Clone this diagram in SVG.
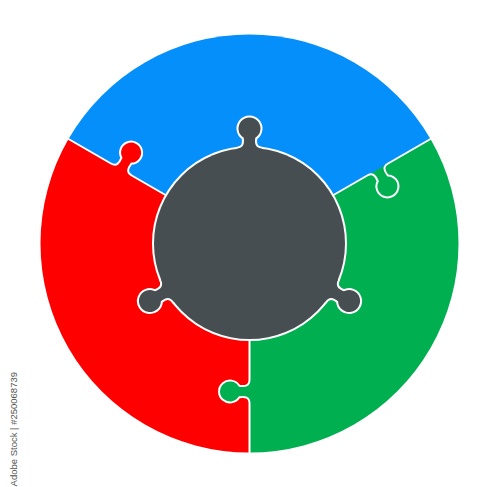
<svg xmlns="http://www.w3.org/2000/svg" xmlns:xlink="http://www.w3.org/1999/xlink" width="500" height="487" viewBox="0 0 500 487">
  <style>
    .blue { fill: #058ffb; }
    .red { fill: #fe0000; }
    .green { fill: #00af50; }
    .gray { fill: #474e52; }
    .seam { fill: none; stroke: #ffffff; stroke-width: 2; }
    .halo { fill: #ffffff; stroke: #ffffff; stroke-width: 4; stroke-linejoin: round; }
    .stock { font-family: "Liberation Sans", Arial, sans-serif; font-size: 9.5px; fill: #555555; }
  </style>
  <defs>
    <path id="seamPath" d="M 85 0 H 136 C 142.5 0 143 4.5 142.2 10.15 A 11 11 0 1 0 153.8 10.15 C 153 4.5 153.5 0 160 0 H 215"/>
    <path id="tabShape" d="M 134 -3 V 0 H 136 C 142.5 0 143 4.5 142.2 10.15 A 11 11 0 1 0 153.8 10.15 C 153 4.5 153.5 0 160 0 H 162 V -3 Z"/>
    <path id="knob" d="M -13 0.9 C -5.5 0 -5 -4.5 -5.8 -10.15 A 11 11 0 1 1 5.8 -10.15 C 5 -4.5 5.5 0 13 0.9 L 13 6 L -13 6 Z"/>
  </defs>

  <g id="piece-blue">
    <path class="blue" d="M 249.5 243.5 L 430.5 139 A 209 209 0 0 0 68.5 139 Z"/>
    <use href="#tabShape" class="blue" transform="translate(249.5 243.5) rotate(-30)"/>
  </g>
  <g id="piece-red">
    <path class="red" d="M 249.5 243.5 L 68.5 139 A 209 209 0 0 0 249.5 452.5 Z"/>
    <use href="#tabShape" class="red" transform="translate(249.5 243.5) rotate(-150)"/>
  </g>
  <g id="piece-green">
    <path class="green" d="M 249.5 243.5 L 249.5 452.5 A 209 209 0 0 0 430.5 139 Z"/>
    <use href="#tabShape" class="green" transform="translate(249.5 243.5) rotate(90)"/>
  </g>

  <g id="connectors">
    <use href="#seamPath" class="seam" transform="translate(249.5 243.5) rotate(-30)"/>
    <use href="#seamPath" class="seam" transform="translate(249.5 243.5) rotate(-150)"/>
    <use href="#seamPath" class="seam" transform="translate(249.5 243.5) rotate(90)"/>
  </g>

  <g id="piece-center">
    <g class="halo">
      <circle cx="249.5" cy="243.5" r="95.5"/>
      <use href="#knob" transform="translate(249.5 243.5) rotate(0) translate(0 -95.5)"/>
      <use href="#knob" transform="translate(249.5 243.5) rotate(-120) translate(0 -95.5)"/>
      <use href="#knob" transform="translate(249.5 243.5) rotate(120) translate(0 -95.5)"/>
    </g>
    <g class="gray">
      <circle cx="249.5" cy="243.5" r="95.5"/>
      <use href="#knob" transform="translate(249.5 243.5) rotate(0) translate(0 -95.5)"/>
      <use href="#knob" transform="translate(249.5 243.5) rotate(-120) translate(0 -95.5)"/>
      <use href="#knob" transform="translate(249.5 243.5) rotate(120) translate(0 -95.5)"/>
    </g>
  </g>

  <text class="stock" transform="translate(16.5 372) rotate(-90)" text-anchor="end">Adobe Stock | #250068739</text>
</svg>
